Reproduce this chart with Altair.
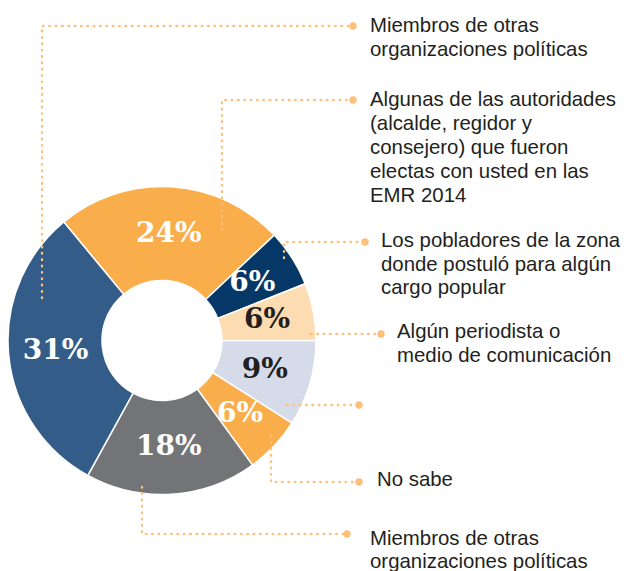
import math
import altair as alt
import pandas as pd

# ---- data (clockwise from 3 o'clock) ----
slice_keys = ["s9", "s6b", "s18", "s31", "s24", "s6n", "s6p"]
slice_values = [9, 6, 18, 31, 24, 6, 6]
slice_colors = ["#D5DBE9", "#F9AE4B", "#737477", "#345C89", "#F9AE4B", "#053767", "#FDDCB1"]
dark_label_keys = ["s9", "s6p"]

callout_texts = [
    "",
    "No sabe",
    "Miembros de otras\norganizaciones políticas",
    "Miembros de otras\norganizaciones políticas",
    "Algunas de las autoridades\n(alcalde, regidor y\nconsejero) que fueron\nelectas con usted en las\nEMR 2014",
    "Los pobladores de la zona\ndonde postuló para algún\ncargo popular",
    "Algún periodista o\nmedio de comunicación",
]

# ---- annotation geometry (page pixels) ----
leader_paths = [
    [(287, 405), (359, 405)],
    [(271, 436), (271, 482), (359, 482)],
    [(142, 487), (142, 534), (347, 534)],
    [(42, 298), (42, 26), (353, 26)],
    [(222, 230), (222, 100), (353, 100)],
    [(284, 258), (284, 242), (365, 242)],
    [(311, 334), (381, 334)],
]
text_anchor = [
    (378, 0), (377, 486), (370, 545), (370, 32), (370, 106), (381, 247), (397, 338),
]
line_heights = [23.5, 23.5, 23, 23.5, 24, 23.5, 24]

W, H = 614, 563
CX, CY = 162 - 8, 340.5 - 8
xs = alt.Scale(domain=[8, 8 + W], range=[0, W])
ys = alt.Scale(domain=[8, 8 + H], range=[0, H])

slices = pd.DataFrame({
    "key": slice_keys,
    "value": slice_values,
    "order": list(range(len(slice_keys))),
    "pct": [f"{v}%" for v in slice_values],
})

theta = alt.Theta("value:Q", stack=True,
                  scale=alt.Scale(range=[math.pi / 2, math.pi / 2 + 2 * math.pi]))

arcs = alt.Chart(slices).mark_arc(
    outerRadius=154, innerRadius=60, stroke="white", strokeWidth=1.5
).encode(
    theta=theta,
    order=alt.Order("order:Q"),
    color=alt.Color("key:N", scale=alt.Scale(domain=slice_keys, range=slice_colors), legend=None),
    x=alt.value(CX), y=alt.value(CY),
)

pct_text = alt.Chart(slices).mark_text(
    radius=107, font="DejaVu Serif", fontWeight="bold", fontSize=28,
    align="center", baseline="middle"
).encode(
    theta=theta,
    order=alt.Order("order:Q"),
    text="pct:N",
    fill=alt.condition(alt.FieldOneOfPredicate(field="key", oneOf=dark_label_keys),
                       alt.value("#231F20"), alt.value("white")),
    x=alt.value(CX), y=alt.value(CY),
)

line_rows, dot_rows, text_rows = [], [], []
for i, path in enumerate(leader_paths):
    for j, (px, py) in enumerate(path):
        line_rows.append({"id": i, "seq": j, "x": px, "y": py})
    dot_rows.append({"x": path[-1][0], "y": path[-1][1]})
    tx, ty = text_anchor[i]
    if callout_texts[i]:
        for k, ln in enumerate(callout_texts[i].split("\n")):
            text_rows.append({"x": tx, "y": ty + k * line_heights[i], "t": ln})

lines = alt.Chart(pd.DataFrame(line_rows)).mark_line(
    color="#FCC07A", strokeWidth=2.4, strokeCap="round", strokeDash=[0.5, 5.85]
).encode(
    x=alt.X("x:Q", scale=xs, axis=None),
    y=alt.Y("y:Q", scale=ys, axis=None),
    detail="id:N",
    order="seq:Q",
)

dots = alt.Chart(pd.DataFrame(dot_rows)).mark_circle(
    size=54, color="#FCC07A", opacity=1
).encode(
    x=alt.X("x:Q", scale=xs, axis=None),
    y=alt.Y("y:Q", scale=ys, axis=None),
)

labels = alt.Chart(pd.DataFrame(text_rows)).mark_text(
    align="left", baseline="alphabetic", font="Liberation Sans", fontSize=20.4, color="#231F20"
).encode(
    x=alt.X("x:Q", scale=xs, axis=None),
    y=alt.Y("y:Q", scale=ys, axis=None),
    text="t:N",
)

chart = alt.layer(arcs, pct_text, lines, dots, labels).properties(
    width=W, height=H, autosize=alt.AutoSizeParams(type="none"), padding=0,
    background="white",
).configure_view(stroke=None)

chart.save("out.html", embed_options={"renderer": "svg", "actions": False})
